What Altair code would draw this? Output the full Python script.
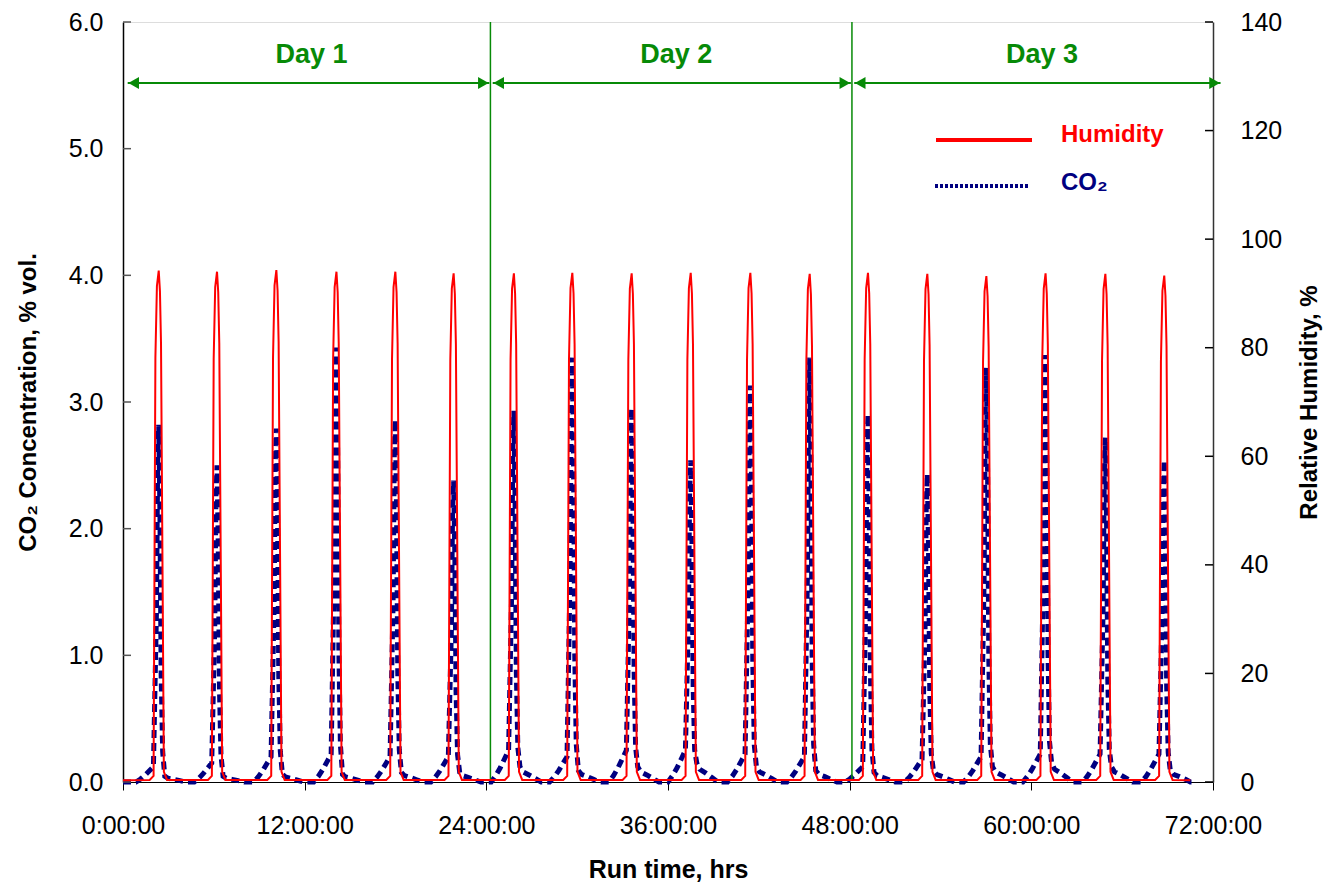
import altair as alt
import pandas as pd

# ---------------- data ----------------
peak_hours = [2.36, 6.21, 10.13, 14.10, 17.99, 21.84, 25.82, 29.68, 33.60,
              37.50, 41.44, 45.36, 49.21, 53.13, 57.03, 60.94, 64.89, 68.78]
rh_peak = [94.2, 94.0, 94.3, 94.0, 94.0, 93.7, 93.7, 93.8, 93.7,
           93.8, 93.8, 93.6, 93.8, 93.6, 93.2, 93.7, 93.6, 93.3]
co2_peak = [2.82, 2.50, 2.79, 3.43, 2.86, 2.38, 2.93, 3.35, 2.95,
            2.54, 3.13, 3.35, 2.90, 2.43, 3.27, 3.37, 2.72, 2.54]
co2_pre = [0.12, 0.15, 0.20, 0.22, 0.20, 0.20, 0.25, 0.20, 0.25,
           0.25, 0.22, 0.20, 0.12, 0.18, 0.20, 0.22, 0.22, 0.22]
co2_tail = [0.03, 0.03, 0.04, 0.04, 0.05, 0.05, 0.08, 0.06, 0.08,
            0.10, 0.08, 0.06, 0.05, 0.06, 0.08, 0.10, 0.08, 0.06]

# peak profiles (hours from each peak top)
rh_offsets = [-0.60, -0.34, -0.22, -0.12, 0.0, 0.08, 0.15, 0.34, 0.55]
rh_profile = [0.004, 0.012, 0.83, 0.97, 1.0, 0.96, 0.86, 0.02, 0.004]
co2_offsets = [-1.5, -1.2, -0.9, -0.6, -0.35, -0.15, -0.07, 0.0, 0.08,
               0.16, 0.26, 0.4, 0.6, 1.0, 1.4, 1.8]
co2_pre_part = [0, 0.2, 0.45, 0.75, 1.0, 0.6, 0, 0, 0, 0, 0, 0, 0, 0, 0, 0]
co2_peak_part = [0, 0, 0, 0, 0, 0.45, 0.9, 1.0, 0.75, 0.3, 0.08, 0, 0, 0, 0, 0]
co2_tail_part = [0, 0, 0, 0, 0, 0, 0, 0, 0, 0, 0.5, 1.5, 1.0, 0.7, 0.35, 0]

run_start, run_end = 0.0, 70.5
x_ticks = [0, 12, 24, 36, 48, 60, 72]
co2_ticks = [0, 1, 2, 3, 4, 5, 6]
rh_ticks = [0, 20, 40, 60, 80, 100, 120, 140]

day_labels = ["Day 1", "Day 2", "Day 3"]
day_label_hours = [12.45, 36.55, 60.7]
arrow_start = [0.31, 24.42, 48.3]
arrow_end = [24.2, 48.08, 72.5]
day_lines = [24.27, 48.15]

# ---------------- tables ----------------
rh_rows = [(run_start, 0.3)]
co2_rows = [(run_start, 0.0)]
for i, c in enumerate(peak_hours):
    for o, f in zip(rh_offsets, rh_profile):
        rh_rows.append((c + o, rh_peak[i] * f))
    for j, o in enumerate(co2_offsets):
        v = (co2_pre[i] * co2_pre_part[j] + co2_peak[i] * co2_peak_part[j]
             + co2_tail[i] * co2_tail_part[j])
        co2_rows.append((c + o, v))
rh_rows.append((run_end, 0.3))
co2_rows.append((run_end, 0.0))
rh_df = pd.DataFrame(rh_rows, columns=["t", "rh"])
co2_df = pd.DataFrame(co2_rows, columns=["t", "co2"])
day_df = pd.DataFrame({"label": day_labels, "mid": day_label_hours,
                       "start": arrow_start, "end": arrow_end})
line_df = pd.DataFrame({"t": day_lines})
co2_tick_df = pd.DataFrame({"v": co2_ticks})
rh_tick_df = pd.DataFrame({"v": rh_ticks})
one = pd.DataFrame({"k": [0]})

W, H = 1090, 760
FONT = "Liberation Sans"
GREEN = "#078A07"
NAVY = "#000080"
RED = "#FF0000"

x_axis = alt.Axis(values=x_ticks, labelExpr="format(datum.value, 'd') + ':00:00'",
                  tickSize=8, tickColor="black", domainColor="black",
                  labelFontSize=25, labelPadding=23, labelFlush=False,
                  titleFontSize=25, titlePadding=19, grid=False)
x_scale = alt.Scale(domain=[0, 72], nice=False, zero=False)
X = alt.X("t:Q", scale=x_scale, axis=x_axis, title="Run time, hrs")

left_axis = alt.Axis(orient="left", values=co2_ticks, format=".1f", ticks=False,
                     labelFontSize=25, labelPadding=20, titleFontSize=24,
                     titlePadding=28, domainColor="black", domainWidth=1.5,
                     grid=False)
left_scale = alt.Scale(domain=[0, 6], nice=False, zero=True)
left_title = "CO₂ Concentration, % vol."

right_axis = alt.Axis(orient="right", values=rh_ticks, format="d", ticks=False,
                      labelFontSize=25, labelPadding=27, titleFontSize=24,
                      titlePadding=40, titleAngle=270, domainColor="#333333",
                      domainWidth=1.5, grid=False)
right_scale = alt.Scale(domain=[0, 140], nice=False, zero=True)
right_title = "Relative Humidity, %"

co2_line = alt.Chart(co2_df).mark_line(
    color=NAVY, strokeWidth=5, strokeDash=[8, 5], strokeCap="butt"
).encode(x=X, y=alt.Y("co2:Q", scale=left_scale, axis=left_axis, title=left_title))

left_ticks = alt.Chart(co2_tick_df).mark_rule(color="#555555", strokeWidth=1.5).encode(
    x=alt.value(0), x2=alt.value(8),
    y=alt.Y("v:Q", scale=left_scale, axis=left_axis, title=left_title))

vlines = alt.Chart(line_df).mark_rule(color=GREEN, strokeWidth=1.5).encode(
    x=X, y=alt.value(0), y2=alt.value(H - 2))

arrow_lines = alt.Chart(day_df).mark_rule(color=GREEN, strokeWidth=2).encode(
    x=alt.X("start:Q", scale=x_scale, axis=x_axis, title="Run time, hrs"),
    x2="end:Q", y=alt.value(61))
arrow_r = alt.Chart(day_df).mark_point(
    shape="triangle-right", filled=True, size=150, color=GREEN, opacity=1, xOffset=-6
).encode(x=alt.X("end:Q", scale=x_scale, axis=x_axis, title="Run time, hrs"),
         y=alt.value(61))
arrow_l = alt.Chart(day_df).mark_point(
    shape="triangle-left", filled=True, size=150, color=GREEN, opacity=1, xOffset=6
).encode(x=alt.X("start:Q", scale=x_scale, axis=x_axis, title="Run time, hrs"),
         y=alt.value(61))
day_text = alt.Chart(day_df).mark_text(
    color=GREEN, fontSize=27, fontWeight="bold", font=FONT, baseline="middle"
).encode(x=alt.X("mid:Q", scale=x_scale, axis=x_axis, title="Run time, hrs"),
         y=alt.value(33), text="label:N")

leg_rh_line = alt.Chart(one).mark_rule(color=RED, strokeWidth=4).encode(
    x=alt.value(813), x2=alt.value(909), y=alt.value(118))
leg_co2_line = alt.Chart(one).mark_rule(
    color=NAVY, strokeWidth=4, strokeDash=[3, 2], strokeCap="butt").encode(
    x=alt.value(812), x2=alt.value(907), y=alt.value(164))
leg_rh_text = alt.Chart(one).mark_text(
    text="Humidity", color=RED, fontSize=24, fontWeight="bold", font=FONT,
    align="left", baseline="middle").encode(x=alt.value(938), y=alt.value(113))
leg_co2_text = alt.Chart(one).mark_text(
    text="CO₂", color=NAVY, fontSize=24, fontWeight="bold", font=FONT,
    align="left", baseline="middle").encode(x=alt.value(938), y=alt.value(161))

rh_line = alt.Chart(rh_df).mark_line(color=RED, strokeWidth=2).encode(
    x=X, y=alt.Y("rh:Q", scale=right_scale, axis=right_axis, title=right_title))
right_ticks = alt.Chart(rh_tick_df).mark_rule(color="black", strokeWidth=1.5).encode(
    x=alt.value(W - 8), x2=alt.value(W),
    y=alt.Y("v:Q", scale=right_scale, axis=right_axis, title=right_title))

left = alt.layer(co2_line, left_ticks, vlines, arrow_lines, arrow_r, arrow_l,
                 day_text, leg_rh_line, leg_co2_line, leg_rh_text, leg_co2_text)
right = alt.layer(rh_line, right_ticks)

chart = alt.layer(left, right).resolve_scale(y="independent").properties(
    width=W, height=H,
    autosize=alt.AutoSizeParams(type="none"),
    padding={"left": 115, "top": 14, "right": 114, "bottom": 102},
).configure_view(stroke="#999999", strokeWidth=1).configure_axis(
    labelFont=FONT, titleFont=FONT, labelColor="black", titleColor="black",
    titleFontWeight="bold"
).configure(background="white")

chart.save("out.html", embed_options={"renderer": "svg", "actions": False})
